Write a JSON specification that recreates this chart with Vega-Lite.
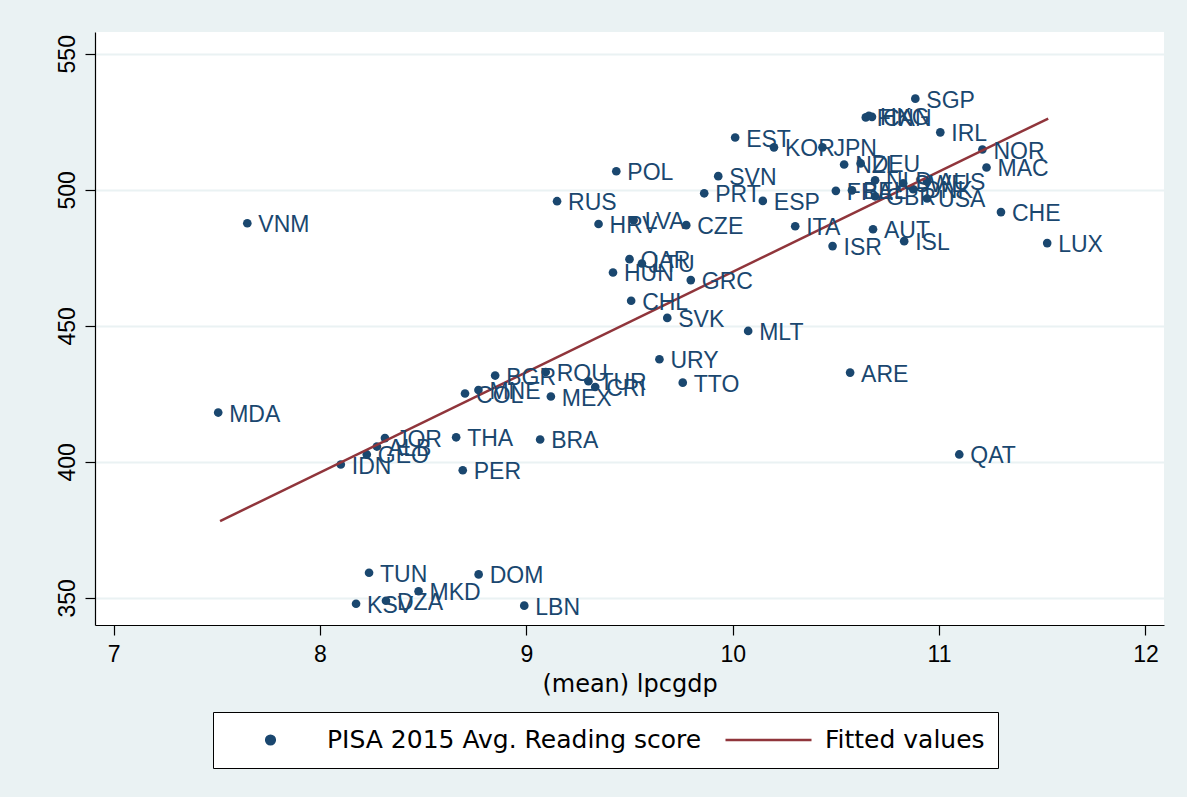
{
  "$schema": "https://vega.github.io/schema/vega-lite/v6.json",
  "autosize": "none",
  "width": 1069,
  "height": 593,
  "padding": {"left": 95, "top": 32, "right": 23, "bottom": 172},
  "background": "#eaf2f3",
  "config": {
    "view": {"fill": "white", "stroke": null},
    "font": "Liberation Sans",
    "axis": {
      "labelFont": "Liberation Sans",
      "titleFont": "DejaVu Sans",
      "labelColor": "#000000",
      "titleColor": "#000000",
      "domainColor": "#000000",
      "tickColor": "#000000",
      "domainWidth": 1.2,
      "tickWidth": 1.2,
      "tickSize": 10,
      "labelFontSize": 23,
      "titleFontSize": 24,
      "titleFontWeight": "normal"
    }
  },
  "datasets": {
    "pts": [
      {"code": "VNM", "lpcgdp": 7.648, "read": 487.7},
      {"code": "MDA", "lpcgdp": 7.507, "read": 418.1},
      {"code": "SGP", "lpcgdp": 10.885, "read": 533.5},
      {"code": "FIN", "lpcgdp": 10.645, "read": 526.6},
      {"code": "HKG", "lpcgdp": 10.66, "read": 527.2},
      {"code": "CAN", "lpcgdp": 10.675, "read": 526.8},
      {"code": "IRL", "lpcgdp": 11.006, "read": 521.1},
      {"code": "EST", "lpcgdp": 10.012, "read": 519.2},
      {"code": "KOR", "lpcgdp": 10.2, "read": 515.6},
      {"code": "JPN", "lpcgdp": 10.435, "read": 515.6},
      {"code": "NOR", "lpcgdp": 11.21, "read": 514.8},
      {"code": "NZL", "lpcgdp": 10.54, "read": 509.3},
      {"code": "DEU", "lpcgdp": 10.62, "read": 509.7},
      {"code": "MAC", "lpcgdp": 11.23, "read": 508.2},
      {"code": "POL", "lpcgdp": 9.436, "read": 506.8},
      {"code": "SVN", "lpcgdp": 9.93, "read": 505.0},
      {"code": "NLD", "lpcgdp": 10.69, "read": 503.5},
      {"code": "AUS", "lpcgdp": 10.942, "read": 503.1},
      {"code": "SWE", "lpcgdp": 10.826, "read": 502.4},
      {"code": "DNK", "lpcgdp": 10.875, "read": 500.2},
      {"code": "FRA", "lpcgdp": 10.5, "read": 499.6},
      {"code": "BEL", "lpcgdp": 10.578, "read": 499.8},
      {"code": "GBR", "lpcgdp": 10.69, "read": 497.6},
      {"code": "USA", "lpcgdp": 10.942, "read": 496.8},
      {"code": "PRT", "lpcgdp": 9.862, "read": 498.7},
      {"code": "ESP", "lpcgdp": 10.146, "read": 495.9},
      {"code": "RUS", "lpcgdp": 9.149, "read": 495.8},
      {"code": "CHE", "lpcgdp": 11.3, "read": 491.8},
      {"code": "HRV", "lpcgdp": 9.35, "read": 487.4},
      {"code": "LVA", "lpcgdp": 9.52, "read": 488.8},
      {"code": "CZE", "lpcgdp": 9.775, "read": 487.0},
      {"code": "ITA", "lpcgdp": 10.303, "read": 486.6},
      {"code": "AUT", "lpcgdp": 10.68, "read": 485.5},
      {"code": "ISL", "lpcgdp": 10.831, "read": 481.1},
      {"code": "LUX", "lpcgdp": 11.524, "read": 480.4},
      {"code": "ISR", "lpcgdp": 10.484, "read": 479.3},
      {"code": "QAR", "lpcgdp": 9.5, "read": 474.5},
      {"code": "LTU", "lpcgdp": 9.56, "read": 472.9},
      {"code": "HUN", "lpcgdp": 9.42, "read": 469.6},
      {"code": "GRC", "lpcgdp": 9.797, "read": 466.8},
      {"code": "CHL", "lpcgdp": 9.508, "read": 459.2},
      {"code": "SVK", "lpcgdp": 9.683, "read": 452.9},
      {"code": "MLT", "lpcgdp": 10.075, "read": 448.1},
      {"code": "URY", "lpcgdp": 9.645, "read": 437.7},
      {"code": "ARE", "lpcgdp": 10.569, "read": 432.8},
      {"code": "ROU", "lpcgdp": 9.094, "read": 433.0},
      {"code": "BGR", "lpcgdp": 8.849, "read": 431.7},
      {"code": "TUR", "lpcgdp": 9.301, "read": 429.6},
      {"code": "CRI", "lpcgdp": 9.334, "read": 427.5},
      {"code": "TTO", "lpcgdp": 9.758, "read": 429.1},
      {"code": "MNE", "lpcgdp": 8.768, "read": 426.4},
      {"code": "COL", "lpcgdp": 8.703, "read": 425.1},
      {"code": "MEX", "lpcgdp": 9.119, "read": 424.0},
      {"code": "JOR", "lpcgdp": 8.315, "read": 408.7},
      {"code": "ALB", "lpcgdp": 8.276, "read": 405.6},
      {"code": "THA", "lpcgdp": 8.66, "read": 409.0},
      {"code": "BRA", "lpcgdp": 9.067, "read": 408.2},
      {"code": "GEO", "lpcgdp": 8.227, "read": 402.7},
      {"code": "IDN", "lpcgdp": 8.101, "read": 399.0},
      {"code": "QAT", "lpcgdp": 11.098, "read": 402.7},
      {"code": "PER", "lpcgdp": 8.692, "read": 396.9},
      {"code": "TUN", "lpcgdp": 8.238, "read": 359.2},
      {"code": "DOM", "lpcgdp": 8.769, "read": 358.6},
      {"code": "MKD", "lpcgdp": 8.478, "read": 352.4},
      {"code": "DZA", "lpcgdp": 8.32, "read": 348.9},
      {"code": "KSV", "lpcgdp": 8.175, "read": 347.8},
      {"code": "LBN", "lpcgdp": 8.99, "read": 347.1}
    ],
    "fit": [
      {"lpcgdp": 7.516, "fitted": 378.2},
      {"lpcgdp": 11.529, "fitted": 526.2}
    ]
  },
  "layer": [
    {
      "data": {"name": "pts"},
      "mark": {"type": "point", "filled": true, "opacity": 1},
      "encoding": {
        "x": {
          "field": "lpcgdp", "type": "quantitative",
          "scale": {"domain": [6.91, 12.09], "nice": false, "zero": false},
          "axis": {"values": [7, 8, 9, 10, 11, 12], "format": "d", "grid": false, "title": "(mean) lpcgdp", "labelPadding": 8, "titlePadding": 6}
        },
        "y": {
          "field": "read", "type": "quantitative",
          "scale": {"domain": [340, 558], "nice": false, "zero": false},
          "axis": {"values": [350, 400, 450, 500, 550], "format": "d", "grid": true, "gridColor": "#eaf2f3", "gridWidth": 2, "title": null, "labelAngle": -90, "labelAlign": "center", "labelBaseline": "bottom", "labelPadding": 6}
        },
        "color": {
          "datum": "PISA 2015 Avg. Reading score",
          "type": "nominal",
          "scale": {"domain": ["PISA 2015 Avg. Reading score", "Fitted values"], "range": ["#1a476f", "#90353b"]},
          "legend": {
            "title": null,
            "orient": "none",
            "legendX": 118,
            "legendY": 680,
            "direction": "horizontal",
            "columns": 2,
            "columnPadding": 22,
            "clipHeight": 30,
            "fillColor": "white",
            "strokeColor": "#000000",
            "padding": 13,
            "labelFont": "DejaVu Sans",
            "labelFontSize": 25,
            "labelLimit": 0,
            "labelOffset": 12,
            "labelColor": "#000000",
            "symbolStrokeWidth": 2.5
          }
        },
        "shape": {
          "datum": "PISA 2015 Avg. Reading score",
          "type": "nominal",
          "scale": {"domain": ["PISA 2015 Avg. Reading score", "Fitted values"], "range": ["circle", "stroke"]},
          "legend": {"title": null}
        },
        "size": {
          "datum": "PISA 2015 Avg. Reading score",
          "type": "nominal",
          "scale": {"domain": ["PISA 2015 Avg. Reading score", "Fitted values"], "range": [75, 7400]},
          "legend": {"title": null}
        }
      }
    },
    {
      "data": {"name": "fit"},
      "mark": {"type": "line", "strokeWidth": 2.5},
      "encoding": {
        "x": {"field": "lpcgdp", "type": "quantitative"},
        "y": {"field": "fitted", "type": "quantitative"},
        "color": {"datum": "Fitted values", "type": "nominal"}
      }
    },
    {
      "data": {"name": "pts"},
      "mark": {"type": "text", "align": "left", "baseline": "middle", "dx": 11, "dy": 2, "fontSize": 23, "font": "Liberation Sans", "color": "#1a476f"},
      "encoding": {
        "x": {"field": "lpcgdp", "type": "quantitative"},
        "y": {"field": "read", "type": "quantitative"},
        "text": {"field": "code"}
      }
    }
  ]
}
